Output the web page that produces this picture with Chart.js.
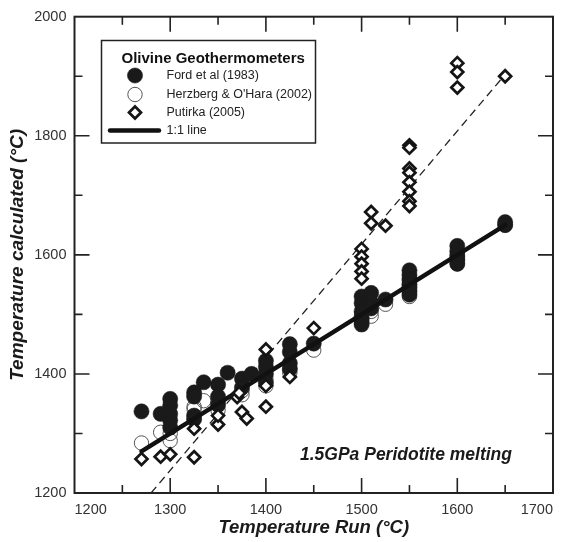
<!DOCTYPE html>
<html><head><meta charset="utf-8">
<script src="https://cdn.jsdelivr.net/npm/chart.js@4.4.0/dist/chart.umd.min.js"></script>
<style>html,body{margin:0;padding:0;background:#fff}#wrap{width:570px;height:542px}</style>
</head><body><div id="wrap"><canvas id="c" width="570" height="542"></canvas></div>
<script>
// ---- data (°C) ----
const fordRun  = [1270,1290,1300,1300,1300,1300,1300,1325,1325,1325,1325,1335,1350,1350,1350,1360,1375,1375,1385,1400,1400,1400,1400,1425,1425,1425,1425,1450,1500,1500,1500,1500,1500,1500,1510,1510,1510,1525,1550,1550,1550,1550,1550,1550,1550,1600,1600,1600,1600,1600,1650,1650];
const fordCalc = [1337,1333,1358,1347,1333,1322,1310,1369,1362,1330,1324,1386,1382,1362,1348,1402,1392,1377,1400,1422,1412,1400,1386,1450,1437,1418,1408,1451,1530,1519,1505,1495,1489,1483,1536,1520,1510,1525,1574,1566,1558,1550,1545,1539,1533,1615,1606,1598,1592,1585,1655,1650];

const herzRun  = [1270,1290,1300,1300,1325,1325,1335,1350,1350,1375,1375,1400,1400,1425,1425,1450,1500,1500,1500,1510,1510,1525,1550,1550,1550,1550,1600,1600,1600,1650];
const herzCalc = [1284,1302,1288,1300,1341,1345,1355,1339,1352,1365,1372,1380,1392,1402,1410,1440,1485,1492,1500,1497,1505,1517,1530,1540,1550,1560,1585,1592,1600,1650];

const putRun  = [1270,1290,1300,1325,1325,1350,1350,1370,1372,1375,1380,1400,1400,1400,1425,1450,1500,1500,1500,1500,1500,1510,1510,1525,1550,1550,1550,1550,1550,1550,1550,1550,1600,1600,1600,1650];
const putCalc = [1257,1261,1265,1260,1308,1315,1330,1361,1368,1336,1325,1345,1380,1441,1395,1477,1610,1597,1585,1572,1560,1672,1653,1649,1784,1780,1745,1738,1722,1706,1690,1682,1922,1907,1881,1900];

const oneToOneRun  = [1270,1650];
const oneToOneCalc = [1270,1650];
const trendRun  = [1280,1650];
const trendCalc = [1200,1903];

const xTicks = [1200,1300,1400,1500,1600,1700];
const yTicks = [1200,1400,1600,1800,2000];

const seriesLabels = ['Ford et al (1983)','Herzberg & O\'Hara (2002)','Putirka (2005)','1:1 line'];

const pts = (xs, ys) => xs.map((x,i)=>({x, y: ys[i]}));
const FONT = '"Liberation Sans", Arial, Helvetica, sans-serif';

const fordStyle = {pointStyle:'circle', pointRadius:7.6, pointBackgroundColor:'#1a1a1a', pointBorderColor:'#1a1a1a', pointBorderWidth:0.5};
const herzStyle = {pointStyle:'circle', pointRadius:7.2, pointBackgroundColor:'rgba(255,255,255,0)', pointBorderColor:'#555', pointBorderWidth:1};
const putStyle  = {pointStyle:'rectRot', pointRadius:6, pointBackgroundColor:'#fff', pointBorderColor:'#151515', pointBorderWidth:2.7};

const frameTicks = {
  id:'frameTicks',
  afterDatasetsDraw(chart){
    const {ctx, chartArea:a, scales:{x, y}} = chart;
    ctx.save();
    ctx.strokeStyle = '#222';
    ctx.lineWidth = 1.6;
    ctx.beginPath();
    for (let v = 1250; v < 1700; v += 50) {
      const px = x.getPixelForValue(v);
      const len = (v % 100 === 0) ? 15 : 8;
      ctx.moveTo(px, a.bottom); ctx.lineTo(px, a.bottom - len);
      ctx.moveTo(px, a.top); ctx.lineTo(px, a.top + len);
    }
    for (let v = 1300; v < 2000; v += 100) {
      const py = y.getPixelForValue(v);
      const len = (v % 200 === 0) ? 15 : 8;
      ctx.moveTo(a.left, py); ctx.lineTo(a.left + len, py);
      ctx.moveTo(a.right, py); ctx.lineTo(a.right - len, py);
    }
    ctx.stroke();
    ctx.lineWidth = 2;
    ctx.strokeRect(a.left, a.top, a.right - a.left, a.bottom - a.top);
    ctx.restore();
  },
  afterDraw(chart){
    const ctx = chart.ctx;
    const H = Chart.helpers;
    ctx.save();
    // legend box
    const L = 101.5, T = 40.5, W = 214, Hh = 102.5;
    ctx.fillStyle = '#fff'; ctx.fillRect(L, T, W, Hh);
    ctx.lineWidth = 1.5; ctx.strokeStyle = '#222'; ctx.strokeRect(L, T, W, Hh);
    ctx.fillStyle = '#111';
    ctx.textBaseline = 'middle'; ctx.textAlign = 'left';
    ctx.font = 'bold 15px ' + FONT;
    ctx.fillText('Olivine Geothermometers', 121.5, 58.5);
    ctx.font = '12.5px ' + FONT;
    const rows = [75.5, 94.5, 112.5, 130.5];
    const styles = [fordStyle, herzStyle, putStyle];
    styles.forEach((s, i) => {
      ctx.fillStyle = s.pointBackgroundColor; ctx.strokeStyle = s.pointBorderColor; ctx.lineWidth = s.pointBorderWidth;
      H.drawPoint(ctx, {pointStyle:s.pointStyle, radius:s.pointRadius, borderWidth:s.pointBorderWidth, rotation:0}, 135, rows[i]);
      ctx.fillStyle = '#222';
      ctx.fillText(seriesLabels[i], 166.5, rows[i]);
    });
    ctx.strokeStyle = '#111'; ctx.lineWidth = 4.5; ctx.lineCap = 'round';
    ctx.beginPath(); ctx.moveTo(110, rows[3]); ctx.lineTo(159, rows[3]); ctx.stroke();
    ctx.fillStyle = '#222';
    ctx.fillText(seriesLabels[3], 166.5, rows[3]);
    // annotation
    ctx.font = 'italic bold 17.5px ' + FONT;
    ctx.textBaseline = 'alphabetic';
    ctx.fillStyle = '#1a1a1a';
    ctx.fillText('1.5GPa Peridotite melting', 300, 460);
    ctx.restore();
  }
};

new Chart(document.getElementById('c'), {
  type: 'scatter',
  data: {
    datasets: [
      Object.assign({label: seriesLabels[2], data: pts(putRun, putCalc)}, putStyle),
      {label: seriesLabels[3], type:'line', data: pts(oneToOneRun, oneToOneCalc), borderColor:'#111', borderWidth:4.5, pointRadius:0, showLine:true, fill:false, borderCapStyle:'round'},
      Object.assign({label: seriesLabels[0], data: pts(fordRun, fordCalc)}, fordStyle),
      Object.assign({label: seriesLabels[1], data: pts(herzRun, herzCalc)}, herzStyle),
      {label: 'trend', type:'line', data: pts(trendRun, trendCalc), borderColor:'#222', borderWidth:1.3, borderDash:[8,5], pointRadius:0, showLine:true, fill:false}
    ]
  },
  options: {
    responsive: false,
    animation: false,
    devicePixelRatio: 1,
    layout: {padding: {top:14, right:17, bottom:0, left:0}},
    plugins: {legend:{display:false}, tooltip:{enabled:false}, title:{display:false}},
    scales: {
      x: {
        type:'linear', min:1200, max:1700,
        afterBuildTicks: s => { s.ticks = xTicks.map(v => ({value:v})); },
        afterFit: s => { s.height = 49; },
        grid:{display:false, drawTicks:false}, border:{display:false},
        ticks:{align:'inner', padding:8, color:'#333', font:{family:FONT, size:14.5}, maxRotation:0, autoSkip:false, callback: v => String(v)},
        title:{display:true, text:'Temperature Run (°C)', color:'#1a1a1a', font:{family:FONT, size:18.5, weight:'bold', style:'italic'}, padding:{top:0, bottom:3}}
      },
      y: {
        type:'linear', min:1200, max:2000,
        afterBuildTicks: s => { s.ticks = yTicks.map(v => ({value:v})); },
        afterFit: s => { s.width = 74.5; },
        grid:{display:false, drawTicks:false}, border:{display:false},
        ticks:{padding:8, color:'#333', font:{family:FONT, size:14.5}, autoSkip:false, callback: v => String(v)},
        title:{display:true, text:'Temperature calculated (°C)', color:'#1a1a1a', font:{family:FONT, size:19, weight:'bold', style:'italic'}, padding:{top:6, bottom:0}}
      }
    }
  },
  plugins: [frameTicks]
});
</script></body></html>
